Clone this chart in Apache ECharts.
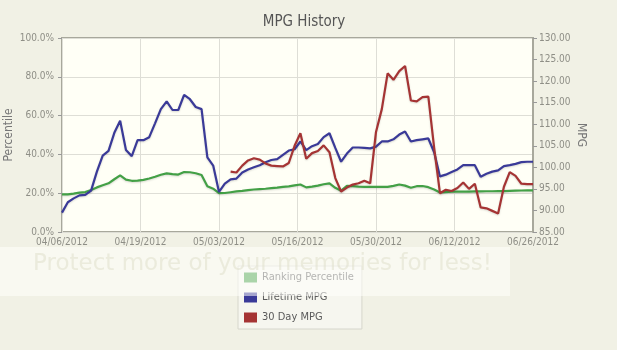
<!DOCTYPE html>
<html>
<head>
<meta charset="utf-8">
<script src="https://cdn.jsdelivr.net/npm/echarts@6/dist/echarts.min.js"></script>
<style>
  html, body { margin: 0; padding: 0; background: #f1f1e5; }
  #chart { width: 617px; height: 350px; }
</style>
</head>
<body>
<div id="chart"></div>
<script>
// Daily readings from 04/06/2012 (day 0) through 06/26/2012 (day 81)
const dayCount = 82;

// x-axis tick labels, one every 13.5 days
const tickLabels = ['04/06/2012', '04/19/2012', '05/03/2012', '05/16/2012', '05/30/2012', '06/12/2012', '06/26/2012'];

// Ranking percentile (%), left axis
const rankingPercentile = [
  19.4, 19.4, 19.8, 20.3, 20.6, 21.6, 23.0, 24.1, 25.1, 27.2,
  29.2, 27.0, 26.4, 26.5, 26.9, 27.6, 28.5, 29.5, 30.2, 29.8,
  29.6, 30.9, 30.8, 30.3, 29.4, 23.6, 22.3, 20.0, 20.1, 20.5,
  20.9, 21.2, 21.6, 21.9, 22.1, 22.3, 22.6, 22.9, 23.3, 23.5,
  24.0, 24.5, 23.0, 23.4, 23.9, 24.6, 25.1, 22.8, 21.3, 23.8,
  23.6, 23.4, 23.3, 23.3, 23.3, 23.3, 23.3, 23.8, 24.5, 23.9,
  22.8, 23.6, 23.7, 23.1, 21.9, 20.4, 20.6, 20.8, 20.8, 20.8,
  20.8, 20.9, 20.9, 21.0, 21.0, 21.1, 21.1, 21.2, 21.3, 21.4,
  21.5, 21.5
];

// Lifetime MPG, right axis
const lifetimeMpg = [
  89.5, 91.9, 92.8, 93.5, 93.6, 94.6, 99.0, 102.7, 103.8, 108.0,
  110.8, 104.0, 102.6, 106.3, 106.3, 107.0, 110.2, 113.5, 115.3, 113.3,
  113.3, 116.8, 115.8, 114.0, 113.5, 102.3, 100.4, 94.3, 96.2, 97.2,
  97.4, 98.8, 99.5, 100.0, 100.5, 101.2, 101.7, 101.9, 102.9, 103.9,
  104.2, 106.0, 104.0, 104.9, 105.4, 107.0, 107.9, 104.5, 101.3, 103.2,
  104.6, 104.6, 104.5, 104.4, 104.8, 106.0, 106.0, 106.5, 107.6, 108.3,
  106.0, 106.3, 106.5, 106.7, 103.5, 97.9, 98.3, 98.9, 99.5, 100.5,
  100.5, 100.5, 97.8, 98.5, 99.0, 99.3, 100.3, 100.5, 100.8, 101.2,
  101.3, 101.3
];

// 30 Day MPG, right axis; first reading on day 29 (05/05/2012)
const thirtyDayStart = 29;
const thirtyDayMpg = [
  99.0, 98.8, 100.4, 101.6, 102.1, 101.8, 100.9, 100.4, 100.3, 100.2,
  101.0, 105.0, 107.9, 102.0, 103.3, 103.8, 105.1, 103.5, 97.5, 94.4,
  95.3, 96.0, 96.3, 96.9, 96.3, 108.2, 113.5, 121.8, 120.3, 122.3,
  123.5, 115.5, 115.3, 116.3, 116.4, 104.5, 94.0, 94.8, 94.5, 95.2,
  96.5, 95.0, 96.2, 90.7, 90.5, 89.9, 89.3, 95.5, 98.9, 98.0,
  96.2, 96.1, 96.1
];

const toPairs = (values, offset) => values.map((v, i) => [offset + i, v]);

const chart = echarts.init(document.getElementById('chart'), null, { renderer: 'canvas' });

const fontFamily = 'DejaVu Sans Condensed, Liberation Sans, sans-serif';
const labelFont = { color: '#8e8e86', fontSize: 10, fontFamily };
const lineShadow = { shadowColor: 'rgba(0,0,0,0.15)', shadowBlur: 2, shadowOffsetY: 1 };

chart.setOption({
  backgroundColor: '#f1f1e5',
  animation: false,
  title: {
    text: 'MPG History',
    left: 299,
    textAlign: 'center',
    top: 10,
    textStyle: { color: '#555', fontSize: 15, fontWeight: 'normal', fontFamily }
  },
  grid: {
    left: 62, right: 84, top: 38, bottom: 118,
    containLabel: false,
    outerBoundsMode: 'none',
    show: true,
    backgroundColor: '#fffff6',
    borderColor: '#a8a89c',
    borderWidth: 2
  },
  legend: {
    orient: 'vertical',
    left: 238,
    top: 266,
    width: 114,
    padding: [6, 8, 6, 6],
    itemGap: 9,
    itemWidth: 13,
    itemHeight: 10,
    icon: 'rect',
    backgroundColor: '#f6f6ef',
    borderColor: '#d6d6cc',
    borderWidth: 1,
    textStyle: { color: '#5a5a5a', fontSize: 11, fontFamily },
    data: ['Ranking Percentile', 'Lifetime MPG', '30 Day MPG']
  },
  xAxis: {
    type: 'value',
    min: 0,
    max: dayCount - 1,
    interval: 13.5,
    axisLine: { show: false },
    axisTick: { show: false },
    axisLabel: Object.assign({ margin: 5, formatter: v => tickLabels[Math.round(v / 13.5)] || '' }, labelFont),
    splitLine: { show: true, lineStyle: { color: '#deded6', width: 1 } }
  },
  yAxis: [
    {
      type: 'value',
      position: 'left',
      min: 0, max: 100, interval: 20,
      name: 'Percentile',
      nameLocation: 'middle',
      nameGap: 47,
      nameMoveOverlap: false,
      nameRotate: 90,
      nameTextStyle: { color: '#777', fontSize: 12, fontFamily },
      axisLine: { show: false },
      axisTick: { show: true, length: 4, lineStyle: { color: '#999' } },
      axisLabel: Object.assign({ margin: 8, formatter: v => v.toFixed(1) + '%' }, labelFont),
      splitLine: { show: true, lineStyle: { color: '#deded6', width: 1 } }
    },
    {
      type: 'value',
      position: 'right',
      min: 85, max: 130, interval: 5,
      name: 'MPG',
      nameLocation: 'middle',
      nameGap: 42,
      nameMoveOverlap: false,
      nameRotate: -90,
      nameTextStyle: { color: '#777', fontSize: 12, fontFamily },
      axisLine: { show: true, lineStyle: { color: '#a8a89c', width: 2 } },
      axisTick: { show: true, length: 4, lineStyle: { color: '#999' } },
      axisLabel: Object.assign({ margin: 6, formatter: v => v.toFixed(2) }, labelFont),
      splitLine: { show: false }
    }
  ],
  series: [
    {
      name: 'Ranking Percentile',
      type: 'line',
      yAxisIndex: 0,
      showSymbol: false,
      color: '#43a046',
      lineStyle: Object.assign({ width: 2.2, color: '#43a046' }, lineShadow),
      data: toPairs(rankingPercentile, 0)
    },
    {
      name: 'Lifetime MPG',
      type: 'line',
      yAxisIndex: 1,
      showSymbol: false,
      color: '#3a3a98',
      lineStyle: Object.assign({ width: 2.2, color: '#3a3a98' }, lineShadow),
      data: toPairs(lifetimeMpg, 0)
    },
    {
      name: '30 Day MPG',
      type: 'line',
      yAxisIndex: 1,
      showSymbol: false,
      color: '#a53434',
      lineStyle: Object.assign({ width: 2.2, color: '#a53434' }, lineShadow),
      data: toPairs(thirtyDayMpg, thirtyDayStart)
    }
  ],
  graphic: [
    {
      type: 'rect',
      left: 0, top: 247, z: 100,
      shape: { width: 510, height: 49 },
      style: { fill: 'rgba(255,255,252,0.55)' },
      silent: true
    },
    {
      type: 'text',
      left: 33, top: 253, z: 101,
      style: {
        text: 'Protect more of your memories for less!',
        fill: 'rgba(222,222,200,0.5)',
        fontSize: 23,
        fontFamily: 'DejaVu Sans, sans-serif'
      },
      silent: true
    }
  ]
});
</script>
</body>
</html>
